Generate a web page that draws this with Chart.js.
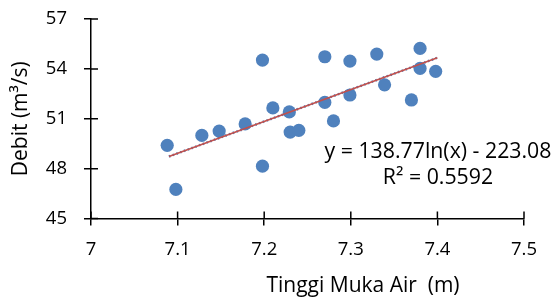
<!DOCTYPE html>
<html><head><meta charset="utf-8">
<script src="https://cdn.jsdelivr.net/npm/chart.js@4.4.1/dist/chart.umd.min.js"></script>
<style>html,body{margin:0;padding:0;background:#fff}#wrap{width:560px;height:298px;position:relative}</style>
</head><body><div id="wrap"><canvas id="c"></canvas></div>
<script>
// Data
const tinggi = [7.088, 7.098, 7.128, 7.148, 7.178, 7.198, 7.198, 7.210, 7.229, 7.230, 7.240,
                7.270, 7.270, 7.280, 7.299, 7.299, 7.330, 7.339, 7.370, 7.380, 7.380, 7.398];
const debit  = [49.4, 46.75, 50.0, 50.26, 50.69, 54.53, 48.15, 51.65, 51.41, 50.2, 50.3,
                54.73, 51.98, 50.87, 54.47, 52.43, 54.89, 53.04, 52.13, 55.23, 54.03, 53.85];
const trendX = [7.09, 7.40];
const trendY = [48.73, 54.67];
const xTicks = [7, 7.1, 7.2, 7.3, 7.4, 7.5];
const yTicks = [45, 48, 51, 54, 57];
const eqText = 'y = 138.77ln(x) - 223.08';
const r2Text = 'R² = 0.5592';
const xTitle = 'Tinggi Muka Air  (m)';
const yTitle = 'Debit (m³/s)';

const FONT = '"Open Sans", Lato, sans-serif';
const FS = 18.5;     // tick labels
const FT = 21;       // axis titles
const FE = 21.3;     // trendline label
Chart.defaults.font.family = FONT;
Chart.defaults.font.size = FS;
Chart.defaults.color = '#000';

const extras = {
  id: 'extras',
  afterDraw(chart) {
    const ctx = chart.ctx, a = chart.chartArea;
    const xs = chart.scales.x, ys = chart.scales.y;
    ctx.save();
    ctx.strokeStyle = '#000';
    ctx.lineWidth = 1.5;
    ctx.beginPath();
    xTicks.forEach(v => { const px = xs.getPixelForValue(v); ctx.moveTo(px, a.bottom); ctx.lineTo(px, a.bottom - 7); });
    yTicks.forEach(v => { const py = ys.getPixelForValue(v); ctx.moveTo(a.left, py); ctx.lineTo(a.left + 7, py); });
    ctx.stroke();
    ctx.fillStyle = '#000';
    ctx.textAlign = 'center';
    ctx.textBaseline = 'middle';
    ctx.font = FE + 'px ' + FONT;
    ctx.fillText(eqText, a.right - 86, 152);
    ctx.fillText(r2Text, a.right - 86, 178);
    ctx.font = FT + 'px ' + FONT;
    ctx.fillText(xTitle, a.right - 161, 286);
    ctx.restore();
  }
};

new Chart(document.getElementById('c'), {
  type: 'scatter',
  data: {
    datasets: [
      {
        type: 'line', order: 0,
        data: trendX.map((x, i) => ({x, y: trendY[i]})),
        borderColor: '#C0504D', borderWidth: 1.8, pointRadius: 0, fill: false
      },
      {
        type: 'line', order: 1,
        data: trendX.map((x, i) => ({x, y: trendY[i]})),
        borderColor: '#4F81BD', borderWidth: 2.5, borderDash: [1.5, 2.5], pointRadius: 0, fill: false
      },
      {
        order: 2,
        data: tinggi.map((x, i) => ({x, y: debit[i]})),
        backgroundColor: '#4F81BD', borderWidth: 0, pointRadius: 6.6, pointHoverRadius: 6.6
      }
    ]
  },
  plugins: [extras],
  options: {
    responsive: true, maintainAspectRatio: false, animation: false,
    layout: { padding: { top: 19, right: 36, left: 0, bottom: 0 } },
    plugins: { legend: { display: false }, tooltip: { enabled: false } },
    scales: {
      x: {
        type: 'linear', min: 7, max: 7.5,
        afterBuildTicks: s => { s.ticks = xTicks.map(v => ({value: v})); },
        afterFit: s => { s.height = 79.5; s.paddingLeft = 0; s.paddingRight = 0; },
        ticks: { padding: 13, callback: v => String(v), color: '#000', maxRotation: 0 },
        grid: { drawOnChartArea: false, drawTicks: true, tickLength: 7, color: '#000', lineWidth: 1.5 },
        border: { display: true, color: '#000', width: 1.5 }
      },
      y: {
        type: 'linear', min: 45, max: 57,
        afterBuildTicks: s => { s.ticks = yTicks.map(v => ({value: v})); },
        afterFit: s => { s.width = 91; s.paddingTop = 0; s.paddingBottom = 0; },
        ticks: { padding: 17, callback: v => String(v), color: '#000' },
        grid: { drawOnChartArea: false, drawTicks: true, tickLength: 7, color: '#000', lineWidth: 1.5 },
        border: { display: true, color: '#000', width: 1.5 },
        title: { display: true, text: yTitle, color: '#000', font: { size: FT }, padding: { top: 8, bottom: 0 } }
      }
    }
  }
});
</script></body></html>
